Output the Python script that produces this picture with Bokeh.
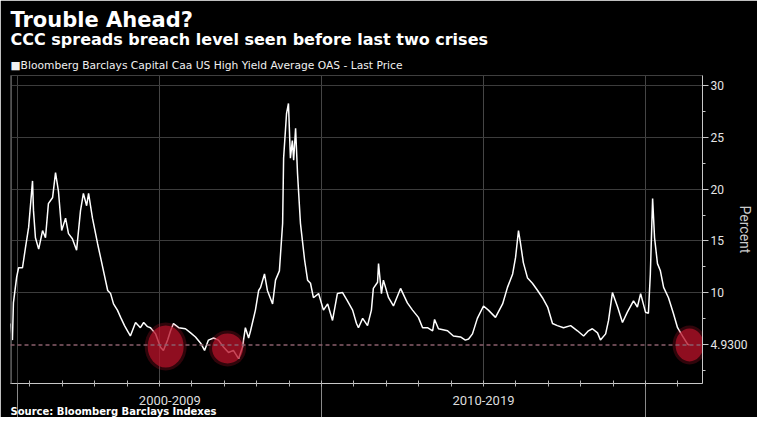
from bokeh.plotting import figure
from bokeh.models import FixedTicker, Span, Title, LinearAxis
from bokeh.embed import file_html
from bokeh.resources import INLINE

# ---- data ----
dates = [2000.40, 2000.46, 2000.49, 2000.59, 2000.65, 2000.77, 2000.86, 2000.96, 2001.08, 2001.11,
         2001.17, 2001.27, 2001.39, 2001.48, 2001.57, 2001.70, 2001.79, 2001.88, 2001.98, 2002.10,
         2002.19, 2002.31, 2002.44, 2002.56, 2002.65, 2002.75, 2002.81, 2002.93, 2003.09, 2003.18,
         2003.40, 2003.49, 2003.58, 2003.70, 2003.80, 2003.92, 2004.01, 2004.10, 2004.26, 2004.41,
         2004.51, 2004.63, 2004.72, 2004.88, 2005.03, 2005.12, 2005.25, 2005.34, 2005.43, 2005.59,
         2005.80, 2005.96, 2006.11, 2006.27, 2006.39, 2006.51, 2006.67, 2006.82, 2006.98, 2007.13,
         2007.28, 2007.44, 2007.56, 2007.65, 2007.75, 2007.81, 2007.96, 2008.06, 2008.12, 2008.24,
         2008.33, 2008.49, 2008.58, 2008.70, 2008.80, 2008.83, 2008.92, 2008.98, 2009.04, 2009.10,
         2009.14, 2009.20, 2009.26, 2009.35, 2009.48, 2009.57, 2009.66, 2009.75, 2009.91, 2010.06,
         2010.19, 2010.34, 2010.49, 2010.65, 2010.80, 2010.96, 2011.08, 2011.14, 2011.27, 2011.42,
         2011.54, 2011.60, 2011.73, 2011.76, 2011.85, 2011.91, 2012.07, 2012.22, 2012.44, 2012.65,
         2012.81, 2012.99, 2013.12, 2013.27, 2013.43, 2013.49, 2013.61, 2013.89, 2014.07, 2014.29,
         2014.44, 2014.54, 2014.66, 2014.81, 2015.00, 2015.15, 2015.37, 2015.59, 2015.74, 2015.90,
         2015.99, 2016.08, 2016.14, 2016.23, 2016.36, 2016.51, 2016.67, 2016.82, 2016.98, 2017.13,
         2017.28, 2017.47, 2017.69, 2017.90, 2018.09, 2018.24, 2018.36, 2018.52, 2018.61, 2018.77,
         2018.86, 2018.98, 2019.14, 2019.29, 2019.44, 2019.63, 2019.75, 2019.85, 2020.00, 2020.09,
         2020.15, 2020.22, 2020.28, 2020.37, 2020.46, 2020.56, 2020.71, 2020.86, 2020.99, 2021.14,
         2021.30, 2021.36]
oas = [7.0, 5.4, 9.0, 11.5, 12.4, 12.4, 14.3, 16.3, 20.8, 17.9,
       15.3, 14.2, 16.0, 15.3, 18.6, 19.2, 21.6, 19.8, 16.0, 17.2,
       15.7, 15.2, 14.1, 17.9, 19.6, 18.4, 19.6, 17.2, 14.7, 13.4,
       10.2, 9.9, 8.9, 8.3, 7.6, 6.8, 6.3, 5.8, 7.1, 6.6,
       7.1, 6.7, 6.6, 6.0, 4.7, 4.4, 5.4, 6.3, 7.0, 6.6,
       6.5, 6.1, 5.7, 5.1, 4.4, 5.4, 5.6, 5.4, 4.7, 4.2,
       4.4, 3.6, 4.7, 6.6, 5.6, 6.3, 8.3, 10.2, 10.5, 11.8,
       10.2, 8.9, 11.2, 12.1, 16.7, 23.0, 27.3, 28.3, 23.0, 24.7,
       22.8, 25.9, 21.5, 16.7, 13.1, 11.2, 10.9, 9.5, 9.9, 8.3,
       8.9, 7.3, 9.9, 10.0, 9.2, 8.3, 7.0, 6.6, 7.5, 6.8,
       8.3, 10.4, 11.0, 12.8, 9.9, 11.2, 9.5, 8.7, 10.4, 9.0,
       8.3, 7.6, 6.6, 6.6, 6.3, 7.4, 6.5, 6.3, 5.8, 5.7,
       5.4, 5.5, 6.0, 7.5, 8.7, 8.3, 7.6, 8.9, 10.5, 11.8,
       13.4, 16.0, 14.8, 12.9, 11.4, 10.9, 10.2, 9.5, 8.6, 7.0,
       6.8, 6.6, 6.8, 6.3, 5.8, 6.3, 6.5, 6.1, 5.4, 6.0,
       7.3, 10.0, 8.6, 7.1, 8.1, 9.2, 8.6, 9.9, 8.1, 8.0,
       11.8, 19.1, 15.3, 12.8, 12.1, 10.5, 9.5, 8.0, 6.6, 5.8,
       5.0, 4.93]
last_value = 4.93
highlight_x = [2005.19, 2007.10, 2021.36]
highlight_y = [4.78, 4.59, 4.93]
y_ticks = [10, 15, 20, 25, 30]
y_minor = [2.5, 5, 7.5, 12.5, 17.5, 22.5, 27.5]
decade_edges = [2000.63, 2010, 2020]
decade_centers = [2005.32, 2015]
decade_labels = ["2000-2009", "2010-2019"]
grid_years = [2000.63, 2005, 2010, 2015, 2020]
year_ticks = list(range(2001, 2022))

title_text = "Trouble Ahead?"
subtitle_text = "CCC spreads breach level seen before last two crises"
legend_text = "\u25a0Bloomberg Barclays Capital Caa US High Yield Average OAS - Last Price"
source_text = "Source: Bloomberg Barclays Indexes"
y_label = "Percent"

p = figure(width=757, height=417, x_range=(2000.40, 2021.76), y_range=(1.2, 31.0),
           output_backend="svg", toolbar_location=None, y_axis_location="right", title=None,
           min_border=0, min_border_left=10, min_border_right=55, min_border_top=75,
           min_border_bottom=34,
           background_fill_color="black", border_fill_color="black", outline_line_color=None)

# ---- bottom axis 1 (next to the plot): decade dividers + yearly ticks ----
ax = p.xaxis[0]
ax.ticker = FixedTicker(ticks=decade_edges, minor_ticks=year_ticks)
ax.major_label_overrides = {t: " " for t in decade_edges}
ax.major_label_text_font_size = "1px"
ax.major_label_text_color = "black"
ax.major_label_standoff = -34
ax.major_tick_in = 0
ax.major_tick_out = 34
ax.minor_tick_in = 3
ax.minor_tick_out = 3
ax.axis_line_color = "#c8c8c8"
ax.major_tick_line_color = "#8a8a8a"
ax.minor_tick_line_color = "#b4b4b4"

# ---- bottom axis 2: decade labels ----
lab_axis = LinearAxis(ticker=FixedTicker(ticks=decade_centers, minor_ticks=[]),
                      major_label_overrides=dict(zip(decade_centers, decade_labels)),
                      major_tick_in=0, major_tick_out=0, axis_line_color=None,
                      major_label_standoff=8, major_label_text_font="Roboto",
                      major_label_text_font_size="13px", major_label_text_color="#dddddd")
p.add_layout(lab_axis, "below")
p.add_layout(Title(text=source_text, align="left", vertical_align="top", standoff=-3,
                   text_font="DejaVu Sans", text_font_style="bold", text_font_size="10px",
                   text_color="white"), "below")

# ---- right axis ----
ay = p.yaxis[0]
ay.ticker = FixedTicker(ticks=y_ticks + [last_value], minor_ticks=y_minor)
ay.major_label_overrides = {last_value: "%.4f" % last_value}
ay.major_tick_in = 0
ay.major_tick_out = 6
ay.minor_tick_in = 0
ay.minor_tick_out = 3
ay.axis_line_color = "#c8c8c8"
ay.major_tick_line_color = "#c8c8c8"
ay.minor_tick_line_color = "#c8c8c8"
ay.major_label_text_color = "#e6e6e6"
ay.major_label_text_font = "Roboto"
ay.major_label_text_font_size = "12px"
ay.major_label_standoff = 2
ay.axis_label = y_label
ay.axis_label_standoff = -13
ay.axis_label_text_font = "Roboto"
ay.axis_label_text_font_style = "normal"
ay.axis_label_text_font_size = "14px"
ay.axis_label_text_color = "#cccccc"

# ---- top texts (nearest the plot first) ----
p.add_layout(Title(text=legend_text, align="left", vertical_align="middle", standoff=5,
                   text_font="DejaVu Sans", text_font_style="normal", text_font_size="10.7px",
                   text_color="#f0f0f0"), "above")
p.add_layout(Title(text=subtitle_text, align="left", vertical_align="middle", standoff=11,
                   text_font="DejaVu Sans", text_font_style="bold", text_font_size="16px",
                   text_color="white"), "above")
p.add_layout(Title(text=title_text, align="left", vertical_align="middle", standoff=-18,
                   text_font="DejaVu Sans", text_font_style="bold", text_font_size="21px",
                   text_color="white"), "above")
p.add_layout(Title(text=" ", align="left", vertical_align="middle", standoff=4,
                   text_font="DejaVu Sans", text_font_size="8px", text_color="black"), "above")

# ---- grid & reference lines ----
p.xgrid.ticker = FixedTicker(ticks=grid_years)
p.ygrid.ticker = FixedTicker(ticks=y_ticks)
p.xgrid.grid_line_color = "#454545"
p.ygrid.grid_line_color = "#3c3c3c"
p.add_layout(Span(location=2000.43, dimension="height", line_color="#555555", line_width=1))
p.add_layout(Span(location=last_value, dimension="width", line_color="#8a5f6c",
                  line_dash="4 3", line_width=1.5))

# ---- data ----
p.line(dates, oas, line_color="white", line_width=1.5)
p.ellipse(x=highlight_x, y=highlight_y, width=[42, 37, 34], height=[48, 36, 39],
          width_units="screen", height_units="screen",
          fill_color="#c0142c", fill_alpha=0.25, line_color=None)
p.ellipse(x=highlight_x, y=highlight_y, width=[36, 31, 28], height=[42, 30, 33],
          width_units="screen", height_units="screen",
          fill_color="#b8122a", fill_alpha=0.7, line_color=None)

open("out.html", "w").write(file_html(p, INLINE))
